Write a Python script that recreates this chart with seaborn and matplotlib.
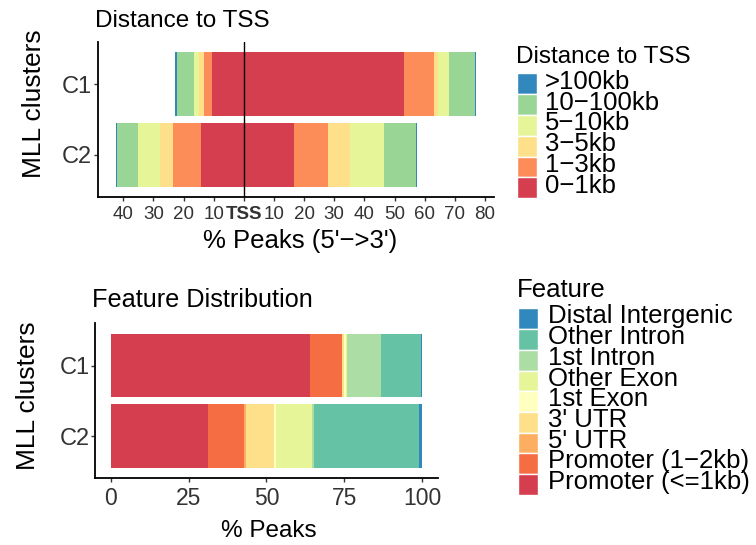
import numpy as np
import pandas as pd
import matplotlib
matplotlib.use("Agg")
import matplotlib.pyplot as plt
import seaborn as sns
from matplotlib.patches import Rectangle
from matplotlib.transforms import Affine2D

# ---------------- data ----------------
clusters = ["C1", "C2"]

dist_labels = ["0\u22121kb", "1\u22123kb", "3\u22125kb", "5\u221210kb", "10\u2212100kb", ">100kb"]
dist_colors = ["#D53E4F", "#FC8D59", "#FEE08B", "#E6F598", "#99D594", "#3288BD"]
# % of peaks upstream (5') and downstream (3') of TSS, per distance bin
upstream_C1 = [10.6, 2.6, 1.65, 1.65, 5.7, 0.5]
downstream_C1 = [53.2, 9.9, 1.3, 3.6, 8.6, 0.5]
upstream_C2 = [14.1, 9.3, 4.5, 7.1, 7.1, 0.25]
downstream_C2 = [16.7, 11.3, 7.2, 11.4, 10.5, 0.35]

dist_ticks = [-40, -30, -20, -10, 0, 10, 20, 30, 40, 50, 60, 70, 80]
dist_ticklabels = ["40", "30", "20", "10", "TSS", "10", "20", "30", "40", "50", "60", "70", "80"]

feat_labels = ["Promoter (<=1kb)", "Promoter (1\u22122kb)", "5' UTR", "3' UTR", "1st Exon",
               "Other Exon", "1st Intron", "Other Intron", "Distal Intergenic"]
feat_colors = ["#D53E4F", "#F46D43", "#FDAE61", "#FEE08B", "#FFFFBF",
               "#E6F598", "#ABDDA4", "#66C2A5", "#3288BD"]
feature_C1 = [64.0, 10.2, 0.1, 0.5, 0.7, 0.2, 11.0, 12.9, 0.4]
feature_C2 = [31.2, 11.6, 0.6, 9.0, 0.65, 11.5, 0.65, 33.6, 1.2]

feat_ticks = [0, 25, 50, 75, 100]

# ---------------- style ----------------
sns.set_theme(style="ticks")
plt.rcParams["font.family"] = ["Liberation Sans", "DejaVu Sans"]
TXT = "#333333"

W, H = 756, 545
fig = plt.figure(figsize=(W / 100, H / 100), dpi=100)
px = Affine2D().scale(1 / W, -1 / H).translate(0, 1) + fig.transFigure


def axes_px(x0, y0, x1, y1):
    return fig.add_axes([x0 / W, 1 - y1 / H, (x1 - x0) / W, (y1 - y0) / H])


def stacked(ax, rows, colors, sign=1):
    vals = np.array(rows, dtype=float)
    cum = np.cumsum(vals, axis=1) * sign
    for j in range(vals.shape[1] - 1, -1, -1):
        df = pd.DataFrame({"cluster": clusters, "pct": cum[:, j]})
        sns.barplot(data=df, x="pct", y="cluster", order=clusters, orient="y",
                    color=colors[j], saturation=1, width=0.9, errorbar=None,
                    linewidth=0, ax=ax)


def style_axes(ax):
    sns.despine(ax=ax)
    for s in ["left", "bottom"]:
        ax.spines[s].set_linewidth(1.3)
        ax.spines[s].set_color("black")
    ax.set_xlabel("")
    ax.set_ylabel("")
    ax.grid(False)


# ---------------- panel 1: distance to TSS ----------------
ax1 = axes_px(97.7, 41.7, 494.3, 197.3)
stacked(ax1, [downstream_C1, downstream_C2], dist_colors, 1)
stacked(ax1, [upstream_C1, upstream_C2], dist_colors, -1)
ax1.axvline(0, color="black", lw=1.0, zorder=5)
ax1.set_xlim(-48.5, 83.1)
ax1.set_ylim(1.6, -0.6)
style_axes(ax1)
ax1.set_xticks(dist_ticks)
ax1.set_xticklabels(dist_ticklabels)
for t in ax1.get_xticklabels():
    if t.get_text() == "TSS":
        t.set_fontweight("bold")
ax1.tick_params(axis="x", labelsize=13.5, length=2.6, width=1, color=TXT,
                labelcolor=TXT, pad=3.6)
ax1.tick_params(axis="y", labelsize=17, length=2.6, width=1, color=TXT,
                labelcolor=TXT, pad=1.3)

# ---------------- panel 2: feature distribution ----------------
ax2 = axes_px(95.1, 323.3, 437.9, 478.3)
stacked(ax2, [feature_C1, feature_C2], feat_colors, 1)
ax2.set_xlim(-5, 105)
ax2.set_ylim(1.6, -0.6)
style_axes(ax2)
ax2.set_xticks(feat_ticks)
ax2.set_xticklabels([str(t) for t in feat_ticks])
ax2.tick_params(axis="x", labelsize=16.5, length=2.6, width=1, color=TXT,
                labelcolor=TXT, pad=3.4)
ax2.tick_params(axis="y", labelsize=17, length=2.6, width=1, color=TXT,
                labelcolor=TXT, pad=1.3)

# ---------------- titles and axis labels ----------------
fig.text(95.2, 27.3, "Distance to TSS", transform=px, fontsize=17.5,
         ha="left", va="baseline", color="black")
fig.text(91.8, 307.3, "Feature Distribution", transform=px, fontsize=18.2,
         ha="left", va="baseline", color="black")
fig.text(300, 248.3, "% Peaks (5'\u2212>3')", transform=px, fontsize=18.5,
         ha="center", va="baseline", color="black")
fig.text(269.2, 536.7, "% Peaks", transform=px, fontsize=17.5,
         ha="center", va="baseline", color="black")
fig.text(34.5, 104, "MLL clusters", transform=px, fontsize=19, rotation=90,
         ha="center", va="center", color="black")
fig.text(27.9, 396, "MLL clusters", transform=px, fontsize=19, rotation=90,
         ha="center", va="center", color="black")


# ---------------- legends ----------------
def legend_px(title, labels, colors, x_key, x_txt, title_base, key_top, pitch,
              base_off, tsize, lsize):
    fig.text(x_key - 1.5, title_base, title, transform=px, fontsize=tsize,
             ha="left", va="baseline", color="black")
    for i, (lab, col) in enumerate(zip(labels, colors)):
        y = key_top + i * pitch
        fig.add_artist(Rectangle((x_key, y), 20, pitch, transform=px,
                                 facecolor=col, edgecolor="white", lw=1.0))
        fig.text(x_txt, y + base_off, lab, transform=px, fontsize=lsize,
                 ha="left", va="baseline", color="black")


legend_px("Distance to TSS", dist_labels[::-1], dist_colors[::-1],
          517, 545, 63.3, 73.3, 20.83, 15.5, 17.5, 18.5)
legend_px("Feature", feat_labels[::-1], feat_colors[::-1],
          518.3, 548, 296.7, 308.3, 20.74, 15.0, 18.5, 18.5)

fig.savefig("out.png", dpi=100)
